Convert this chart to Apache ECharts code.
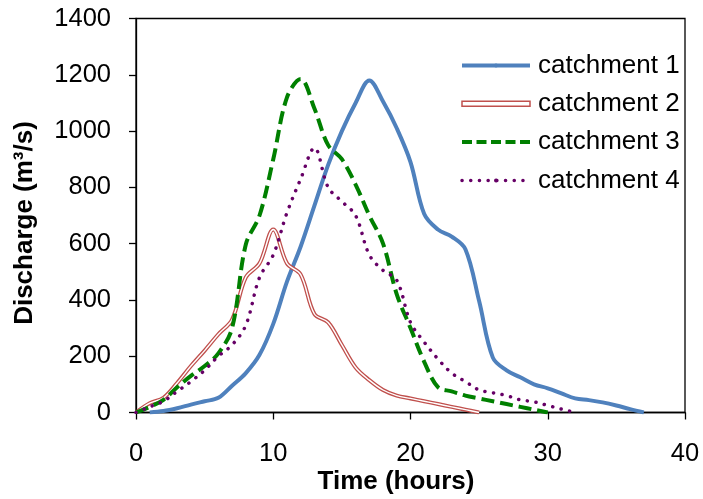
<!DOCTYPE html>
<html>
<head>
<meta charset="utf-8">
<script src="https://cdn.jsdelivr.net/npm/echarts@6/dist/echarts.min.js"></script>
<style>
html,body{margin:0;padding:0;background:#fff;}
#chart{width:703px;height:499px;}
</style>
</head>
<body>
<div id="chart"></div>
<script>
const seriesNames = ['catchment 1', 'catchment 2', 'catchment 3', 'catchment 4'];
const xTicks = [0, 10, 20, 30, 40];
const yTicks = [0, 200, 400, 600, 800, 1000, 1200, 1400];

const time1 = [1,2,3,4,5,6,7,8,9,10,11,12,13,14,15,16,17,18,19,20,21,22,23,24,25,26,27,28,29,30,31,32,33,34,35,36,37];
const flow1 = [0,5,15,28,40,52,95,140,205,315,465,590,735,880,1000,1100,1180,1105,1010,890,705,650,625,580,396,195,150,125,100,86,68,50,44,36,25,12,0];

const time2 = [0,1,2,3,4,5,6,7,8,9,10,11,12,13,14,15,16,17,18,19,20,21,22,23,24,25];
const flow2 = [0,33,52,105,165,220,278,330,480,530,650,530,490,350,320,240,160,115,80,60,50,40,30,20,10,0];

const time3 = [0,1,2,3,4,5,6,7,8,9,10,11,12,13,14,15,16,17,18,19,20,21,22,23,24,25,26,27,28,29,30];
const flow3 = [0,20,45,90,130,165,210,300,597,700,900,1120,1185,1080,950,900,810,700,600,420,300,180,90,75,60,50,40,30,20,10,0];

const time4 = [0,1,2,3,4,5,6,7,8,9,10,11,12,13,14,15,16,17,18,19,20,21,22,23,24,25,26,27,28,29,30,31,32];
const flow4 = [0,20,40,75,110,150,200,240,310,480,560,710,830,940,800,750,700,560,505,470,320,250,190,140,110,80,70,60,45,38,25,12,0];

function pairs(t, q) { return t.map((x, i) => [x, q[i]]); }

const chart = echarts.init(document.getElementById('chart'), null, {renderer: 'canvas'});
const FONT = 'Liberation Sans, Arial, sans-serif';
const SM = 0.35;

const option = {
  animation: false,
  backgroundColor: '#ffffff',
  grid: {left: 136, right: 18, top: 18.5, bottom: 86.5, show: true, borderColor: '#000', borderWidth: 1.3, backgroundColor: 'transparent'},
  xAxis: {
    type: 'value', min: xTicks[0], max: xTicks[xTicks.length - 1], interval: 10,
    axisLine: {show: true, lineStyle: {color: '#000', width: 1.3}},
    axisTick: {show: true, inside: false, length: 7, lineStyle: {color: '#000', width: 1.3}},
    axisLabel: {color: '#000', fontSize: 25.5, fontFamily: FONT, margin: 28, formatter: v => String(v)},
    splitLine: {show: false}
  },
  yAxis: {
    type: 'value', min: yTicks[0], max: yTicks[yTicks.length - 1], interval: 200,
    axisLine: {show: true, lineStyle: {color: '#000', width: 1.3}},
    axisTick: {show: true, inside: false, length: 7, lineStyle: {color: '#000', width: 1.3}},
    axisLabel: {color: '#000', fontSize: 25.5, fontFamily: FONT, margin: 25, formatter: v => String(v)},
    splitLine: {show: false}
  },
  legend: {
    orient: 'vertical', left: 460, top: 50.5, padding: 0,
    itemWidth: 68, itemHeight: 5, itemGap: 8.3,
    textStyle: {color: '#000', fontSize: 26, fontFamily: FONT, lineHeight: 30, padding: [0, 0, 0, 3]},
    data: [
      {name: seriesNames[0], lineStyle: {width: 4}},
      {name: seriesNames[1], icon: 'rect', itemStyle: {color: '#fff', borderColor: '#C0504D', borderWidth: 1.5}},
      {name: seriesNames[2], lineStyle: {width: 4, type: [10, 4.5]}},
      {name: seriesNames[3], lineStyle: {width: 3.5, type: [0.1, 8.6], cap: 'round'}}
    ]
  },
  graphic: [
    {type: 'text', x: 396, y: 482, style: {text: 'Time (hours)', font: 'bold 26px Liberation Sans, Arial, sans-serif', fill: '#000', align: 'center', verticalAlign: 'middle'}},
    {type: 'text', x: 25, y: 223, rotation: Math.PI / 2, style: {text: 'Discharge (m³/s)', font: 'bold 26px Liberation Sans, Arial, sans-serif', fill: '#000', align: 'center', verticalAlign: 'middle'}}
  ],
  series: [
    {name: seriesNames[0], type: 'line', data: pairs(time1, flow1), smooth: SM, showSymbol: false, symbol: 'none',
     lineStyle: {color: '#4F81BD', width: 4}, itemStyle: {color: '#4F81BD'}, z: 2},
    {name: seriesNames[1], type: 'line', data: pairs(time2, flow2), smooth: SM, showSymbol: false, symbol: 'none',
     lineStyle: {color: '#C0504D', width: 4}, itemStyle: {color: '#C0504D'}, z: 3},
    {name: 'catchment 2 inner', type: 'line', data: pairs(time2, flow2), smooth: SM, showSymbol: false, symbol: 'none',
     lineStyle: {color: '#ffffff', width: 1.4}, itemStyle: {color: '#ffffff'}, z: 4},
    {name: seriesNames[2], type: 'line', data: pairs(time3, flow3), smooth: SM, showSymbol: false, symbol: 'none',
     lineStyle: {color: '#008000', width: 4, type: [13, 6]}, itemStyle: {color: '#008000'}, z: 5},
    {name: seriesNames[3], type: 'line', data: pairs(time4, flow4), smooth: SM, showSymbol: false, symbol: 'none',
     lineStyle: {color: '#660066', width: 3.5, type: [0.1, 8.6], cap: 'round'}, itemStyle: {color: '#660066'}, z: 6}
  ]
};
chart.setOption(option);
</script>
</body>
</html>
